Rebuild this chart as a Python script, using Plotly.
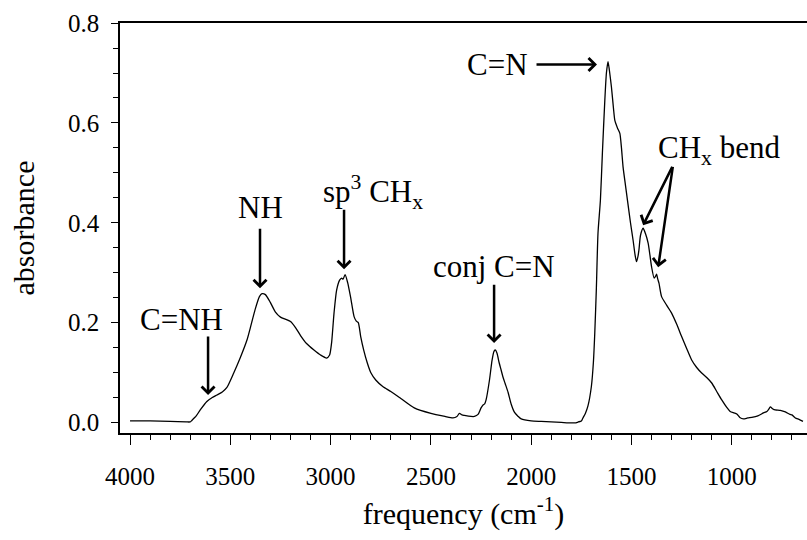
import plotly.graph_objects as go

# IR absorbance spectrum (wavenumber in cm^-1, descending)
freq = [4000, 3900, 3800, 3720, 3700, 3692, 3670, 3650, 3617, 3590, 3567, 3540,
        3517, 3483, 3450, 3417, 3400, 3375, 3355, 3342, 3325, 3300, 3275, 3250,
        3220, 3200, 3175, 3150, 3120, 3083, 3050, 3020, 3005, 2995, 2983, 2970,
        2955, 2945, 2938, 2928, 2915, 2900, 2883, 2872, 2862, 2850, 2835, 2817,
        2800, 2775, 2740, 2700, 2650, 2583, 2500, 2430, 2390, 2370, 2358, 2345,
        2333, 2300, 2283, 2265, 2250, 2240, 2232, 2225, 2208, 2195, 2185, 2178,
        2170, 2160, 2150, 2140, 2130, 2115, 2100, 2083, 2065, 2050, 2000, 1950,
        1900, 1850, 1800, 1783, 1765, 1750, 1742, 1730, 1717, 1700, 1690, 1683,
        1675, 1667, 1655, 1645, 1633, 1625, 1617, 1610, 1600, 1590, 1583, 1570,
        1558, 1550, 1542, 1530, 1520, 1505, 1492, 1482, 1475, 1468, 1463, 1455,
        1442, 1430, 1417, 1408, 1400, 1387, 1380, 1375, 1369, 1363, 1350, 1325,
        1300, 1275, 1250, 1225, 1200, 1175, 1150, 1125, 1100, 1075, 1050, 1025,
        1008, 990, 975, 960, 942, 920, 900, 870, 842, 825, 815, 808,
        795, 783, 758, 733, 710, 700, 683, 665, 645]
absorb = [0.003, 0.003, 0.002, 0.001, 0.001, 0.004, 0.013, 0.025, 0.042, 0.050, 0.055, 0.061,
          0.070, 0.099, 0.130, 0.165, 0.190, 0.228, 0.252, 0.258, 0.256, 0.240, 0.221, 0.211,
          0.206, 0.202, 0.190, 0.174, 0.158, 0.145, 0.135, 0.129, 0.135, 0.160, 0.219, 0.265,
          0.285, 0.289, 0.287, 0.296, 0.280, 0.250, 0.212, 0.203, 0.200, 0.172, 0.145, 0.119,
          0.100, 0.085, 0.072, 0.062, 0.048, 0.029, 0.018, 0.012, 0.009, 0.012, 0.018, 0.015,
          0.014, 0.012, 0.012, 0.016, 0.029, 0.035, 0.037, 0.045, 0.085, 0.125, 0.143, 0.145,
          0.138, 0.120, 0.105, 0.090, 0.078, 0.060, 0.037, 0.020, 0.012, 0.007, 0.003, 0.002,
          0.001, 0.000, -0.001, -0.001, 0.001, 0.003, 0.009, 0.018, 0.033, 0.072, 0.120, 0.179,
          0.270, 0.379, 0.445, 0.540, 0.645, 0.700, 0.723, 0.705, 0.672, 0.630, 0.605, 0.590,
          0.579, 0.550, 0.512, 0.475, 0.445, 0.400, 0.365, 0.335, 0.322, 0.332, 0.345, 0.375,
          0.389, 0.378, 0.359, 0.335, 0.312, 0.289, 0.293, 0.297, 0.287, 0.279, 0.252, 0.235,
          0.219, 0.197, 0.172, 0.148, 0.125, 0.110, 0.099, 0.090, 0.079, 0.062, 0.045, 0.030,
          0.022, 0.019, 0.017, 0.010, 0.007, 0.009, 0.010, 0.013, 0.019, 0.022, 0.027, 0.031,
          0.027, 0.025, 0.024, 0.021, 0.016, 0.015, 0.009, 0.006, 0.002]

# Band labels: text, text position (x, y), arrow tail (x, y), arrow tip (x, y)
band_labels = ["C=NH", "NH", "sp<sup>3</sup> CH<sub>x</sub>", "conj C=N"]
label_pos = [(3743, 0.207), (3352, 0.431), (2790, 0.461), (2185, 0.313)]
arrow_tail = [(3611, 0.175), (3352, 0.391), (2933, 0.429), (2185, 0.279)]
arrow_tip = [(3611, 0.055), (3352, 0.269), (2933, 0.307), (2185, 0.159)]

cn_label, cn_label_pos = "C=N", (2006, 0.717)
cn_arrow_tail, cn_arrow_tip = (1981, 0.717), (1672, 0.717)

bend_label, bend_label_pos = "CH<sub>x</sub> bend", (1377, 0.545)
bend_tail = (1293, 0.515)
bend_tips = [(1442, 0.395), (1367, 0.311)]

FONT = "Liberation Serif"

fig = go.Figure()
fig.add_trace(go.Scatter(x=freq, y=absorb, mode="lines",
                         line=dict(color="black", width=1.3, shape="spline", smoothing=0.6),
                         showlegend=False, hoverinfo="skip"))

def add_arrow(tail, tip):
    fig.add_annotation(x=tip[0], y=tip[1], ax=tail[0], ay=tail[1],
                       xref="x", yref="y", axref="x", ayref="y", text="",
                       showarrow=True, arrowhead=4, arrowsize=1, arrowwidth=2.5,
                       arrowcolor="black", standoff=0, startstandoff=0)

def add_text(txt, pos, anchor="center"):
    fig.add_annotation(x=pos[0], y=pos[1], xref="x", yref="y", text=txt,
                       showarrow=False, xanchor=anchor, yanchor="middle",
                       font=dict(family=FONT, size=31, color="black"))

for txt, pos, tail, tip in zip(band_labels, label_pos, arrow_tail, arrow_tip):
    add_text(txt, pos)
    add_arrow(tail, tip)

add_text(cn_label, cn_label_pos, anchor="right")
add_arrow(cn_arrow_tail, cn_arrow_tip)

add_text(bend_label, bend_label_pos, anchor="left")
for tip in bend_tips:
    add_arrow(bend_tail, tip)

fig.update_layout(
    width=807, height=540,
    margin=dict(l=120, r=0, t=23, b=107),
    paper_bgcolor="white", plot_bgcolor="white",
    font=dict(family=FONT, color="black"),
    showlegend=False,
)
fig.update_xaxes(
    range=[4050, 625], tickmode="linear", tick0=1000, dtick=500,
    ticks="outside", ticklen=10, tickwidth=1.3, tickcolor="black",
    minor=dict(ticks="outside", ticklen=5, tickwidth=1.3, tickcolor="black",
               tickmode="linear", tick0=1000, dtick=100),
    showline=True, linecolor="black", linewidth=1.5, mirror=True,
    showgrid=False, zeroline=False,
    tickfont=dict(family=FONT, size=25, color="black"), ticklabelstandoff=10,
    title=dict(text="frequency (cm<sup>-1</sup>)", standoff=14,
               font=dict(family=FONT, size=30, color="black")),
)
fig.update_yaxes(
    range=[-0.0212, 0.8002], tickmode="linear", tick0=0, dtick=0.2, tickformat=".1f",
    ticks="outside", ticklen=7, tickwidth=1.3, tickcolor="black",
    minor=dict(ticks="outside", ticklen=5, tickwidth=1.3, tickcolor="black",
               tickmode="linear", tick0=0, dtick=0.05),
    showline=True, linecolor="black", linewidth=1.5,
    showgrid=False, zeroline=False,
    tickfont=dict(family=FONT, size=25, color="black"), ticklabelstandoff=7,
    title=dict(text="absorbance", standoff=25,
               font=dict(family=FONT, size=30, color="black")),
)

fig.write_html("out.html")
